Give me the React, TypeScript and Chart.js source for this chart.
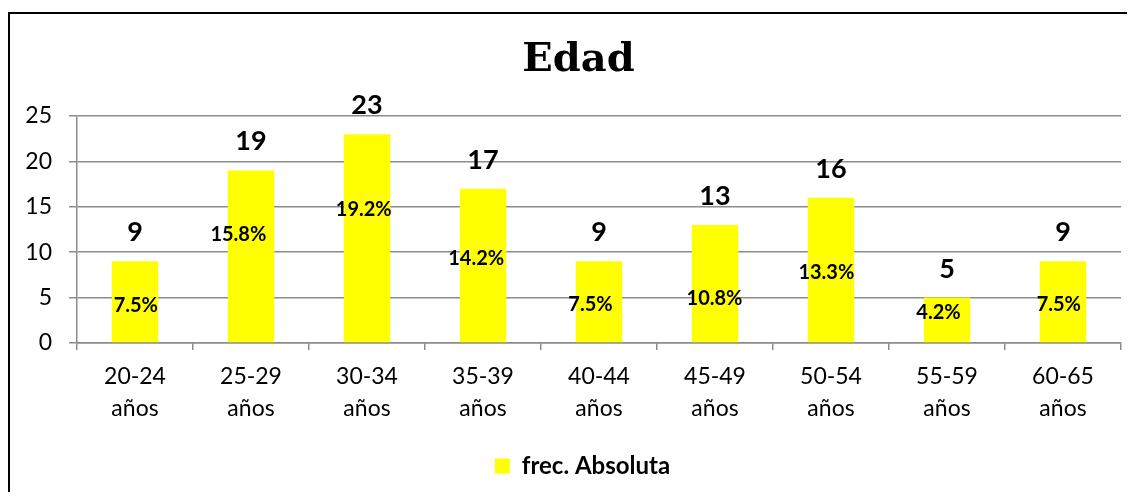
import React, { useEffect, useRef } from "react";
import { Chart, registerables } from "chart.js";

Chart.register(...registerables);

// ---- data ----
const ageRanges = ["20-24", "25-29", "30-34", "35-39", "40-44", "45-49", "50-54", "55-59", "60-65"];
const ageUnit = "años";
const frecAbsoluta = [9, 19, 23, 17, 9, 13, 16, 5, 9];
const frecRelativaLabels = ["7.5%", "15.8%", "19.2%", "14.2%", "7.5%", "10.8%", "13.3%", "4.2%", "7.5%"];
// where each percentage label sits (value units on the y axis) and its small sideways nudge (category units)
const pctLabelAnchor = [4.14, 11.95, 14.67, 9.34, 4.27, 4.93, 7.76, 3.34, 4.27];
const pctLabelNudge = [0.007, -0.109, -0.028, -0.059, -0.073, -0.004, -0.04, -0.073, -0.036];
const yMin = 0;
const yMax = 25;
const yStep = 5;
const chartTitle = "Edad";
const seriesName = "frec. Absoluta";

const FONT = "Lato, 'Open Sans', sans-serif";
const GRID = "#8c8c8c";

const labelsPlugin = {
  id: "barLabels",
  afterLayout(chart: any) {
    // the reference centres title and legend slightly right of the canvas centre
    if (chart.titleBlock) {
      chart.titleBlock.left += 13;
      chart.titleBlock.right += 13;
    }
    if (chart.legend) {
      chart.legend.left += 17;
      chart.legend.right += 17;
    }
  },
  afterDatasetsDraw(chart: any) {
    const ctx = chart.ctx;
    const meta = chart.getDatasetMeta(0);
    const xs = chart.scales.x;
    const ys = chart.scales.y;
    ctx.save();
    ctx.fillStyle = "#000";
    ctx.textAlign = "center";
    meta.data.forEach((bar: any, i: number) => {
      ctx.font = `bold 27px ${FONT}`;
      ctx.textBaseline = "alphabetic";
      ctx.fillText(String(frecAbsoluta[i]), bar.x, bar.y - 20);
      ctx.font = `bold 20px ${FONT}`;
      ctx.textBaseline = "middle";
      const px = xs.getPixelForValue(i + pctLabelNudge[i]);
      const py = ys.getPixelForValue(pctLabelAnchor[i]);
      ctx.fillText(frecRelativaLabels[i], px, py);
    });
    ctx.restore();
  },
};

export default function App() {
  const ref = useRef<HTMLCanvasElement | null>(null);
  useEffect(() => {
    if (!ref.current) return;
    const chart = new Chart(ref.current, {
      type: "bar",
      data: {
        labels: ageRanges.map((r) => [r, ageUnit]),
        datasets: [
          {
            label: seriesName,
            data: frecAbsoluta,
            backgroundColor: "#ffff00",
            borderWidth: 0,
            categoryPercentage: 1,
            barPercentage: 0.4,
          },
        ],
      },
      options: {
        responsive: false,
        animation: false,
        devicePixelRatio: 1,
        layout: { padding: { left: 0, right: 14, top: 0, bottom: 4 } },
        plugins: {
          title: {
            display: true,
            text: chartTitle,
            color: "#000",
            font: { family: "'DejaVu Serif', serif", weight: "bold", size: 40, lineHeight: 1.2 },
            padding: { top: 23, bottom: 31 },
          },
          legend: {
            display: true,
            position: "bottom",
            labels: {
              color: "#000",
              boxWidth: 15,
              boxHeight: 15,
              padding: 21.5,
              font: { family: FONT, weight: "bold", size: 24 },
            },
          },
          tooltip: { enabled: false },
        },
        scales: {
          x: {
            afterFit: (s: any) => {
              s.height = 89.5;
            },
            grid: {
              display: true,
              drawOnChartArea: false,
              drawTicks: true,
              tickLength: 7,
              color: GRID,
              lineWidth: 1.5,
              offset: true,
            },
            border: { display: true, color: GRID, width: 1.5 },
            ticks: {
              color: "#000",
              padding: 10.5,
              maxRotation: 0,
              autoSkip: false,
              font: { family: FONT, size: 23, lineHeight: 32 / 23 },
            },
          },
          y: {
            min: yMin,
            max: yMax,
            afterFit: (s: any) => {
              s.width = 67;
            },
            grid: { color: GRID, lineWidth: 1.5, tickLength: 8, drawTicks: true },
            border: { display: true, color: GRID, width: 1.5 },
            ticks: {
              stepSize: yStep,
              color: "#000",
              padding: 17,
              font: { family: FONT, size: 23 },
            },
          },
        },
      },
      plugins: [labelsPlugin],
    } as any);
    return () => chart.destroy();
  }, []);

  return (
    <div style={{ paddingTop: 4 }}>
      <div
        style={{
          borderLeft: "2px solid #000",
          borderTop: "2px solid #000",
          width: 1125,
          height: 478,
          background: "#fff",
        }}
      >
        <canvas ref={ref} width={1125} height={478} style={{ display: "block" }} />
      </div>
    </div>
  );
}
